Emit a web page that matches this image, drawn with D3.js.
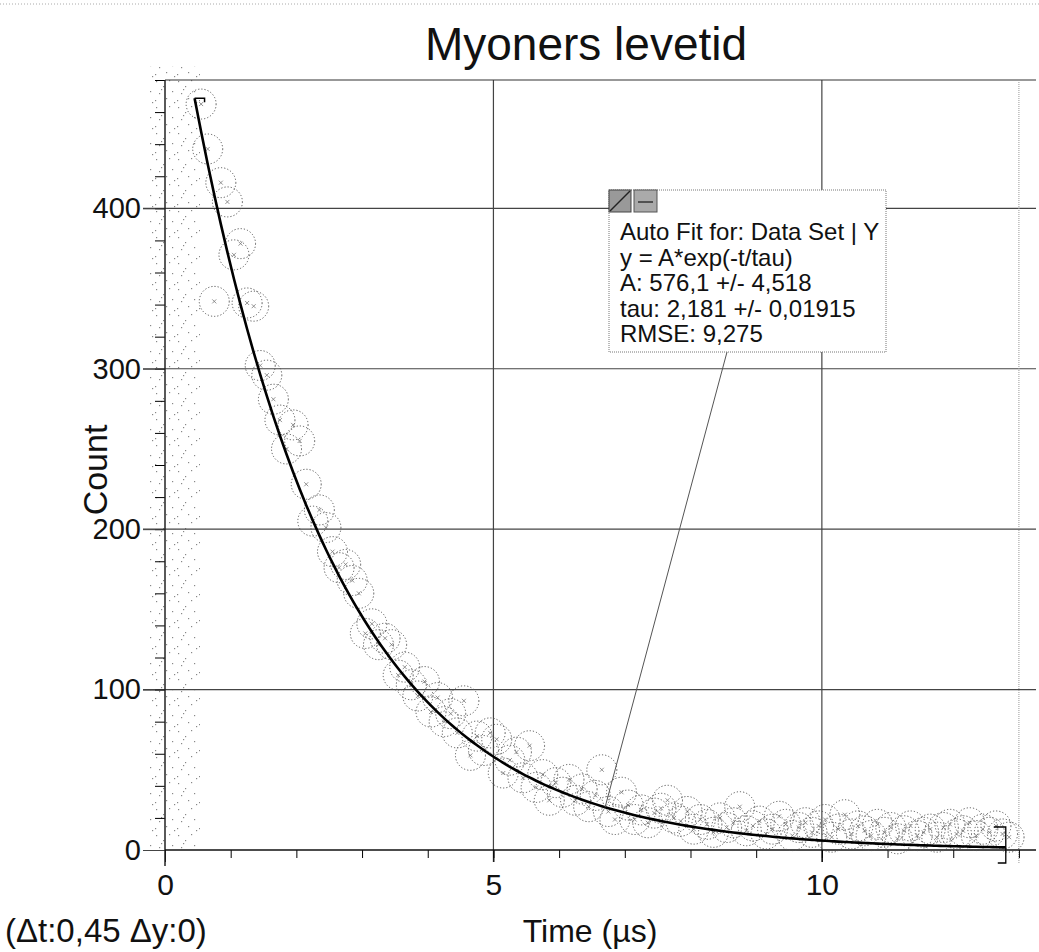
<!DOCTYPE html>
<html>
<head>
<meta charset="utf-8">
<script src="https://cdn.jsdelivr.net/npm/d3@7"></script>
<style>
body { margin: 0; background: #fff; }
text { font-family: "Liberation Sans", Arial, sans-serif; fill: #111; }
</style>
</head>
<body>
<svg id="chart" width="1039" height="952"></svg>
<script>
// bin centres (µs) and counts
var times = [0.55,0.65,0.75,0.85,0.95,1.05,1.15,1.25,1.35,1.45,1.55,1.65,1.75,1.85,1.95,
	2.05,2.15,2.25,2.35,2.45,2.55,2.65,2.75,2.85,2.95,3.05,3.15,3.25,3.35,3.45,3.55,3.65,3.75,3.85,3.95,
	4.05,4.15,4.25,4.35,4.45,4.55,4.65,4.75,4.85,4.95,5.05,5.15,5.25,5.35,5.45,5.55,5.65,5.75,5.85,5.95,
	6.05,6.15,6.25,6.35,6.45,6.55,6.65,6.75,6.85,6.95,7.05,7.15,7.25,7.35,7.45,7.55,7.65,7.75,7.85,7.95,
	8.05,8.15,8.25,8.35,8.45,8.55,8.65,8.75,8.85,8.95,9.05,9.15,9.25,9.35,9.45,9.55,9.65,9.75,9.85,9.95,
	10.05,10.15,10.25,10.35,10.45,10.55,10.65,10.75,10.85,10.95,11.05,11.15,11.25,11.35,11.45,11.55,11.65,11.75,11.85,11.95,
	12.05,12.15,12.25,12.35,12.45,12.55,12.65,12.75,12.85];
var counts = [465,437,342,416,404,371,378,341,339,302,296,281,268,250,265,
	255,228,205,212,201,186,176,178,168,160,135,141,128,132,128,109,114,103,96,105,
	86,95,80,85,73,93,59,71,62,73,69,48,56,61,45,65,39,47,31,42,
	36,44,31,38,27,34,50,24,19,36,28,19,25,17,23,26,31,20,18,24,
	13,19,16,11,20,14,17,27,12,15,18,10,13,21,16,9,14,17,11,15,
	19,8,13,22,10,15,12,9,16,11,14,7,12,15,9,11,13,8,14,16,
	10,12,17,9,13,11,15,10,8];

// fit parameters printed in the box
var fitA = 576.1, fitTau = 2.181;
var fitRange = [0.45, 12.8];
var xTicks = [0, 5, 10];
var yTicks = [0, 100, 200, 300, 400];
var boxLines = ["Auto Fit for: Data Set | Y", "y = A*exp(-t/tau)", "A: 576,1 +/- 4,518",
	"tau: 2,181 +/- 0,01915", "RMSE: 9,275"];

var svg = d3.select("#chart");
// note: "top" is taken by window.top, so plot edges get their own names
var plotL = 165, plotR = 1036, plotT = 80, plotB = 850;

var x = d3.scaleLinear().domain([0, 13.26]).range([plotL, plotR]);
var y = d3.scaleLinear().domain([0, 480]).range([plotB, plotT]);

function fit(t) { return fitA * Math.exp(-t / fitTau); }

// scan edge at the very top
svg.append("line").attr("x1", 0).attr("x2", 1039).attr("y1", 4).attr("y2", 4)
	.attr("stroke", "#aaa").attr("stroke-dasharray", "1,2");

// dotted band left of the data (points below the fit range)
var defs = svg.append("defs");
var pat = defs.append("pattern").attr("id", "stip").attr("patternUnits", "userSpaceOnUse")
	.attr("width", 22).attr("height", 26);
[[2,3],[9,8],[15,2],[5,15],[18,13],[12,20],[1,22],[20,24],[7,11]].forEach(function(p) {
	pat.append("rect").attr("x", p[0]).attr("y", p[1]).attr("width", 1.2).attr("height", 1.2).attr("fill", "#888");
});
svg.append("rect").attr("x", 150).attr("y", 66).attr("width", 50).attr("height", plotB - 66)
	.attr("fill", "url(#stip)");

// gridlines
svg.append("g").selectAll("line").data(yTicks.filter(function(d) { return d > 0; }))
	.enter().append("line")
	.attr("x1", 143).attr("x2", plotR)
	.attr("y1", function(d) { return y(d); }).attr("y2", function(d) { return y(d); })
	.attr("stroke", "#444").attr("stroke-width", 1.2);
svg.append("g").selectAll("line").data(xTicks.filter(function(d) { return d > 0; }))
	.enter().append("line")
	.attr("x1", function(d) { return x(d); }).attr("x2", function(d) { return x(d); })
	.attr("y1", plotT).attr("y2", plotB + 12)
	.attr("stroke", "#444").attr("stroke-width", 1.2);

// frame
svg.append("line").attr("x1", plotL).attr("x2", plotR).attr("y1", plotT).attr("y2", plotT)
	.attr("stroke", "#333").attr("stroke-width", 1.2);
svg.append("line").attr("x1", x(13)).attr("x2", x(13)).attr("y1", plotT).attr("y2", plotB + 14)
	.attr("stroke", "#999").attr("stroke-dasharray", "1,1");

// minor ticks
var xMinor = d3.axisBottom(x).tickValues(d3.range(0, 14)).tickSize(8).tickFormat("");
svg.append("g").attr("transform", "translate(0," + plotB + ")").call(xMinor)
	.call(function(g) { g.select(".domain").remove(); });
var yMinor = d3.axisLeft(y).tickValues(d3.range(0, 481, 20)).tickSize(10).tickFormat("");
svg.append("g").attr("transform", "translate(" + plotL + ",0)").call(yMinor)
	.call(function(g) { g.select(".domain").remove(); });

// major axes with labels
var xAxis = d3.axisBottom(x).tickValues(xTicks).tickSize(12).tickPadding(12);
svg.append("g").attr("transform", "translate(0," + plotB + ")").call(xAxis)
	.call(function(g) {
		g.select(".domain").remove();
		g.selectAll("text").attr("font-size", 30).attr("fill", "#111");
	});
var yAxis = d3.axisLeft(y).tickValues(yTicks).tickSize(22).tickPadding(2);
svg.append("g").attr("transform", "translate(" + plotL + ",0)").call(yAxis)
	.call(function(g) {
		g.select(".domain").remove();
		g.selectAll("line").attr("stroke", "#444");
		g.selectAll("text").attr("font-size", 29).attr("fill", "#111");
	});

// axis lines
svg.append("line").attr("x1", plotL).attr("x2", plotL).attr("y1", plotT).attr("y2", plotB + 16)
	.attr("stroke", "#222").attr("stroke-width", 1.5);
svg.append("line").attr("x1", plotL).attr("x2", plotR).attr("y1", plotB).attr("y2", plotB)
	.attr("stroke", "#111").attr("stroke-width", 1.5);

// data circles
var pts = svg.append("g").selectAll("g").data(times).enter().append("g")
	.attr("transform", function(d, i) { return "translate(" + x(d) + "," + y(counts[i]) + ")"; });
pts.append("circle").attr("r", 15).attr("fill", "none")
	.attr("stroke", "#555").attr("stroke-width", 1).attr("stroke-dasharray", "1.2,2");
pts.append("path").attr("d", "M-2,-2L2,2M-2,2L2,-2").attr("stroke", "#777").attr("stroke-width", 0.8);

// fit curve
var fitT = [fitRange[0]].concat(times.filter(function(t) { return t > fitRange[0] && t < fitRange[1]; }), [fitRange[1]]);
var line = d3.line().x(function(t) { return x(t); }).y(function(t) { return y(fit(t)); })
	.curve(d3.curveMonotoneX);
svg.append("path").datum(fitT).attr("d", line).attr("fill", "none")
	.attr("stroke", "#000").attr("stroke-width", 2.6);

// fit range brackets
var x0 = x(fitRange[0]), y0 = y(fit(fitRange[0]));
svg.append("path").attr("d", "M" + x0 + "," + y0 + "H" + (x0 + 10) + "v4")
	.attr("fill", "none").attr("stroke", "#000").attr("stroke-width", 1.5);
var x1 = x(fitRange[1]);
svg.append("path").attr("d", "M" + (x1 - 12) + ",827H" + x1 + "V863H" + (x1 - 8))
	.attr("fill", "none").attr("stroke", "#000").attr("stroke-width", 1.3);

// leader from the fit box to the curve
svg.append("line").attr("x1", 727).attr("y1", 352)
	.attr("x2", x(6.7)).attr("y2", y(fit(6.7)))
	.attr("stroke", "#555").attr("stroke-width", 1);

// fit box
svg.append("rect").attr("x", 609).attr("y", 190).attr("width", 277).attr("height", 162)
	.attr("fill", "#fff").attr("stroke", "#777").attr("stroke-dasharray", "1,1");
svg.append("rect").attr("x", 609).attr("y", 190).attr("width", 22).attr("height", 22)
	.attr("fill", "#999").attr("stroke", "#444");
svg.append("line").attr("x1", 610).attr("y1", 211).attr("x2", 630).attr("y2", 191)
	.attr("stroke", "#222").attr("stroke-width", 1.5);
svg.append("rect").attr("x", 634).attr("y", 190).attr("width", 23).attr("height", 22)
	.attr("fill", "#aaa").attr("stroke", "#555");
svg.append("line").attr("x1", 638).attr("y1", 202).attr("x2", 653).attr("y2", 202)
	.attr("stroke", "#333").attr("stroke-width", 1.5);
svg.append("g").selectAll("text").data(boxLines).enter().append("text")
	.attr("x", 620).attr("y", function(d, i) { return 240 + i * 25.5; })
	.attr("font-size", 24).text(function(d) { return d; });

// titles
svg.append("text").attr("x", 586).attr("y", 60).attr("text-anchor", "middle")
	.attr("font-size", 46).text("Myoners levetid");
svg.append("text").attr("transform", "translate(107,470) rotate(-90)")
	.attr("text-anchor", "middle").attr("font-size", 34).text("Count");
svg.append("text").attr("x", 590).attr("y", 942).attr("text-anchor", "middle")
	.attr("font-size", 32).text("Time (µs)");
svg.append("text").attr("x", 5).attr("y", 942)
	.attr("font-size", 33).text("(Δt:0,45 Δy:0)");
</script>
</body>
</html>
